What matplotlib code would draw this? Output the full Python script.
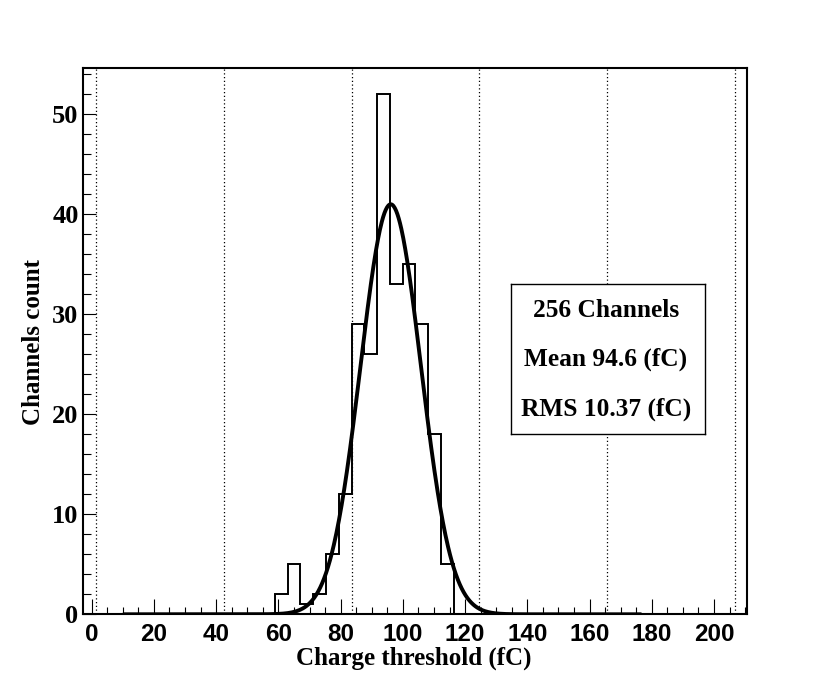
#!/usr/bin/env python3
"""
Charge threshold distribution of 256 channels, with gaussian fit
"""

import numpy as np
import matplotlib.pyplot as plt

# histogram: first bin edge, bin width (fC) and counts per bin
first_edge = 58.84
bin_width = 4.11
counts = [2, 5, 1, 2, 6, 12, 29, 26, 52, 33, 35, 29, 18, 5]

# gaussian fit parameters and drawing range
fit_amp = 41.0
fit_mean = 96.1
fit_sigma = 9.7
fit_range = (10.0, 176.7)

# dotted grid lines (fC)
grid_x = [1.3, 42.4, 83.5, 124.6, 165.7, 206.8]

x_ticks = [0, 20, 40, 60, 80, 100, 120, 140, 160, 180, 200]
y_ticks = [0, 10, 20, 30, 40, 50]

stats_lines = ["256 Channels", "Mean 94.6 (fC)", "RMS 10.37 (fC)"]

serif = ["Liberation Serif", "DejaVu Serif"]
sans = ["Liberation Sans", "DejaVu Sans"]


def gauss(x, a, m, s):
    return a * np.exp(-0.5 * ((x - m) / s) ** 2)


def main():
    fig = plt.figure(figsize=(8.3, 6.83), dpi=100)
    ax = fig.add_axes([0.0996, 0.1006, 0.8008, 0.8003])

    ax.set_xlim(-2.9, 210.7)
    ax.set_ylim(0, 54.66)

    # grid
    for gx in grid_x:
        ax.axvline(gx, color="black", linestyle=(0, (1, 2)), linewidth=0.9, zorder=1)

    # histogram
    edges = first_edge + bin_width * np.arange(len(counts) + 1)
    ax.stairs(counts, edges, baseline=0, color="black", linewidth=1.4, zorder=3)

    # fit curve
    xf = np.linspace(fit_range[0], fit_range[1], 800)
    ax.plot(xf, gauss(xf, fit_amp, fit_mean, fit_sigma), color="black",
            linewidth=2.8, zorder=4, solid_capstyle="butt")

    # axes styling
    for side in ax.spines.values():
        side.set_linewidth(1.5)
    ax.set_xticks(x_ticks)
    ax.set_xticks(np.arange(0, 211, 5), minor=True)
    ax.set_yticks(y_ticks)
    ax.set_yticks(np.arange(0, 55, 2), minor=True)
    ax.tick_params(axis="both", which="both", direction="in", top=False, right=False)
    ax.tick_params(axis="x", which="major", length=10.5, width=0.8, pad=6)
    ax.tick_params(axis="x", which="minor", length=5, width=0.8)
    ax.tick_params(axis="y", which="major", length=9.5, width=0.8, pad=3)
    ax.tick_params(axis="y", which="minor", length=6, width=0.8)
    ax.set_xticklabels([str(t) for t in x_ticks], family=sans, fontweight="bold", fontsize=17.5)
    ax.set_yticklabels([str(t) for t in y_ticks], family=serif, fontweight="bold", fontsize=19)

    fig.text(414 / 830, 1 - 658 / 683, "Charge threshold (fC)", ha="center", va="center",
             family=serif, fontweight="bold", fontsize=18)
    fig.text(33 / 830, 1 - 342 / 683, "Channels count", ha="center", va="center",
             rotation=90, family=serif, fontweight="bold", fontsize=18)

    # stats box
    bx0, bx1, by0, by1 = 511, 705, 284, 434
    ax_box = fig.add_axes([bx0 / 830, 1 - by1 / 683, (bx1 - bx0) / 830, (by1 - by0) / 683])
    ax_box.set_xticks([])
    ax_box.set_yticks([])
    ax_box.set_facecolor("white")
    for side in ax_box.spines.values():
        side.set_linewidth(1.0)
    line_y = [311, 359, 409]
    for txt, ly in zip(stats_lines, line_y):
        ax_box.text(0.49, (by1 - ly) / (by1 - by0), txt, ha="center", va="center",
                    transform=ax_box.transAxes, family=serif, fontweight="bold", fontsize=18.3)

    fig.savefig("out.png", dpi=100)
    plt.close(fig)


if __name__ == "__main__":
    main()
